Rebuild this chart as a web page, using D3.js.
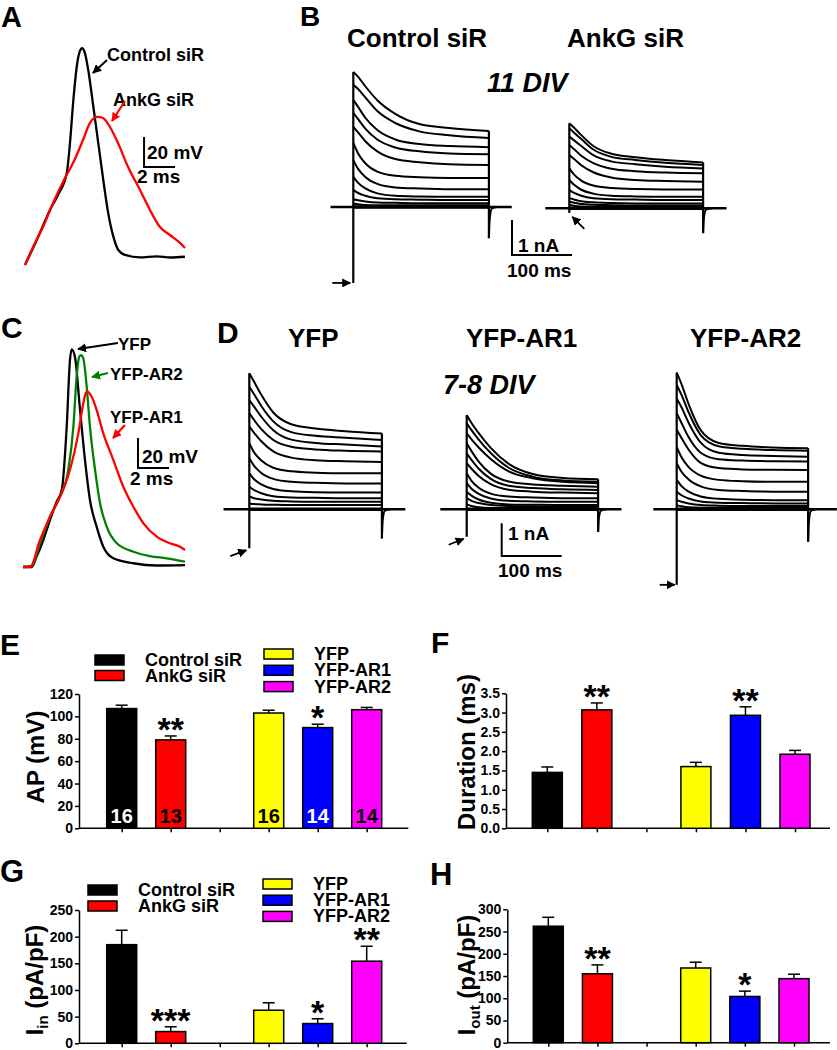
<!DOCTYPE html>
<html><head><meta charset="utf-8">
<script src="https://cdn.jsdelivr.net/npm/d3@7"></script>
<style>
body{margin:0;background:#fff}
svg{display:block}
</style>
</head><body><script>
// ================= DATA =================
// Panel A action potentials: [time (ms), voltage (mV, relative to rest)]
const apAControl = [[0,0],[0.52,11.3],[1.10,24.7],[1.61,36.7],[2.13,46.7],[2.69,61.1],[2.90,81.1],[3.12,110],[3.37,134.5],[3.55,142.9],[3.68,144.5],[3.87,141.1],[4.08,130],[4.41,105.5],[4.73,81.1],[5.05,56.7],[5.37,34.5],[5.70,18.9],[6.02,10],[6.45,6.7],[7.42,5.1],[8.5,5.8],[9.4,5.0],[10.32,5.5]];
const apAAnkG = [[0,0],[0.52,12],[1.16,25.3],[1.81,41.3],[2.58,58],[3.10,68],[3.74,83.3],[4.19,94.7],[4.65,98.7],[5.03,98],[5.48,92],[6.0,81.3],[6.65,65.3],[7.42,50],[8.06,36.7],[8.71,25.3],[9.35,20],[10.0,14.7],[10.32,11.3]];
// Panel C action potentials
const apCYFP = [[0,0],[0.56,0],[0.88,6.9],[1.31,18],[1.74,31.3],[2.17,43.5],[2.5,51.3],[2.82,93.5],[3.03,138],[3.14,145.1],[3.35,140.2],[3.68,104.7],[4.0,71.3],[4.32,44.7],[4.75,26.9],[5.18,13.5],[5.83,5.8],[7.12,2.5],[8.6,1.0],[10.45,1.3]];
const apCAR2 = [[0,0],[0.56,0.7],[1.1,15.8],[1.74,33.5],[2.39,46.9],[2.92,64.7],[3.25,93.5],[3.46,126.9],[3.63,140.2],[3.74,141.3],[3.89,139.1],[4.11,120.2],[4.32,93.5],[4.65,64.7],[4.97,42.5],[5.4,26.9],[6.05,15.8],[7.12,10.2],[8.19,7.3],[9.27,5.8],[10.45,3.5]];
const apCAR1 = [[0,0],[0.45,0],[1.1,18],[1.74,33.5],[2.39,46.9],[3.03,64.7],[3.57,89.1],[3.89,109.1],[4.06,116.2],[4.15,116.9],[4.43,113.5],[4.75,104.7],[5.18,89.1],[5.83,71.3],[6.47,53.5],[7.12,40.2],[7.77,29.1],[8.63,20.2],[9.48,15.8],[10.13,13.5],[10.45,11.3]];

// Current families (nA) sampled at these times (ms) + step end
const sweepTimes = [0, 8, 20, 40, 70, 110, 160];
const stepEndMs   = [226, 223, 221, 219, 219];        // B ctrl, B AnkG, D YFP, D AR1, D AR2
const onsetPeakNA = [-2.17, -0.13, -1.19, -0.84, -2.31];
const offsetPeakNA= [-0.89, -0.71, -0.89, -0.69, -0.99];
const baselineMs  = [[-38,264],[-40,262],[-43,260],[-44,258],[-39,267]];

const ctrlSiRSweeps = [
[3.86,3.72,3.45,3.05,2.66,2.37,2.26,2.17],
[3.49,3.37,3.13,2.74,2.40,2.16,2.05,1.97],
[3.06,2.86,2.55,2.20,1.93,1.80,1.74,1.71],
[2.69,2.51,2.24,1.93,1.70,1.59,1.53,1.51],
[2.29,2.13,1.88,1.59,1.37,1.28,1.22,1.20],
[1.83,1.53,1.25,1.01,0.89,0.85,0.83,0.83],
[1.34,1.09,0.86,0.66,0.56,0.53,0.51,0.51],
[0.86,0.69,0.53,0.39,0.32,0.30,0.29,0.29],
[0.49,0.40,0.32,0.25,0.22,0.21,0.20,0.20],
[0.22,0.19,0.16,0.13,0.12,0.11,0.11,0.11],
[0.10,0.08,0.06,0.05,0.05,0.05,0.05,0.05]];
const ankGSiRSweeps = [
[2.43,2.30,2.09,1.78,1.56,1.46,1.38,1.31],
[2.29,2.16,1.98,1.68,1.47,1.38,1.30,1.24],
[2.05,1.94,1.78,1.52,1.34,1.26,1.19,1.14],
[1.81,1.69,1.50,1.29,1.13,1.06,1.02,1.00],
[1.52,1.41,1.23,1.03,0.88,0.81,0.78,0.76],
[1.14,0.96,0.79,0.65,0.58,0.55,0.54,0.54],
[0.81,0.67,0.53,0.42,0.36,0.34,0.33,0.33],
[0.52,0.44,0.36,0.29,0.26,0.25,0.24,0.24],
[0.29,0.25,0.20,0.17,0.15,0.14,0.14,0.14],
[0.19,0.16,0.12,0.10,0.09,0.08,0.08,0.08],
[0.10,0.07,0.05,0.04,0.04,0.04,0.04,0.04]];
const yfpSweeps = [
[4.16,3.90,3.50,2.96,2.60,2.47,2.39,2.32],
[3.75,3.52,3.16,2.69,2.36,2.25,2.19,2.12],
[3.34,3.14,2.83,2.42,2.13,2.03,1.98,1.92],
[2.94,2.73,2.45,2.12,1.91,1.83,1.79,1.77],
[2.53,2.34,2.08,1.77,1.58,1.50,1.47,1.45],
[2.02,1.74,1.49,1.27,1.16,1.12,1.10,1.10],
[1.56,1.33,1.11,0.93,0.84,0.81,0.79,0.79],
[1.10,0.92,0.76,0.62,0.55,0.52,0.51,0.51],
[0.69,0.59,0.49,0.40,0.36,0.35,0.34,0.34],
[0.39,0.34,0.30,0.26,0.24,0.23,0.23,0.23],
[0.18,0.16,0.15,0.14,0.13,0.13,0.13,0.13]];
const yfpAR1Sweeps = [
[2.88,2.64,2.33,1.88,1.39,1.08,0.96,0.92],
[2.63,2.42,2.13,1.72,1.27,1.00,0.88,0.84],
[2.32,2.14,1.89,1.54,1.16,0.95,0.84,0.80],
[2.02,1.78,1.46,1.09,0.85,0.76,0.72,0.69],
[1.71,1.51,1.24,0.93,0.72,0.65,0.61,0.59],
[1.41,1.24,1.02,0.77,0.60,0.54,0.51,0.49],
[1.10,0.87,0.66,0.48,0.39,0.36,0.34,0.34],
[0.80,0.63,0.47,0.33,0.26,0.24,0.23,0.23],
[0.54,0.42,0.30,0.20,0.15,0.14,0.13,0.13],
[0.34,0.26,0.19,0.13,0.10,0.09,0.08,0.08],
[0.15,0.10,0.06,0.04,0.04,0.04,0.04,0.04]];
const yfpAR2Sweeps = [
[4.18,3.83,3.21,2.42,2.03,1.94,1.89,1.87],
[3.80,3.50,2.96,2.27,1.93,1.85,1.81,1.79],
[3.39,3.12,2.64,2.04,1.73,1.66,1.63,1.61],
[2.94,2.64,2.20,1.73,1.53,1.49,1.47,1.46],
[2.43,2.18,1.82,1.42,1.26,1.22,1.21,1.20],
[1.91,1.59,1.29,1.03,0.90,0.86,0.84,0.84],
[1.41,1.15,0.91,0.70,0.59,0.56,0.54,0.54],
[0.90,0.71,0.54,0.39,0.32,0.29,0.28,0.28],
[0.54,0.43,0.33,0.24,0.20,0.19,0.18,0.18],
[0.28,0.23,0.18,0.13,0.11,0.10,0.10,0.10],
[0.12,0.09,0.06,0.05,0.05,0.05,0.05,0.05]];

// Bar charts
const categories = ["Control siR","AnkG siR","gap","YFP","YFP-AR1","YFP-AR2"];
const barGroups  = ["Control siR","AnkG siR","YFP","YFP-AR1","YFP-AR2"];
const apValues  = [107, 79, 103, 90, 106];
const apErrors  = [3, 3.5, 2.5, 3, 2];
const apN       = ["16","13","16","14","14"];
const apSig     = ["","**","","*",""];
const durValues = [1.45, 3.07, 1.60, 2.93, 1.92];
const durErrors = [0.14, 0.18, 0.11, 0.22, 0.10];
const durSig    = ["","**","","**",""];
const iinValues = [185, 22, 62, 37, 154];
const iinErrors = [27, 9, 14, 9, 28];
const iinSig    = ["","***","","*","**"];
const ioutValues= [262, 155, 168, 104, 144];
const ioutErrors= [20, 20, 13, 12, 10];
const ioutSig   = ["","**","","*",""];
const apTicks   = [0,20,40,60,80,100,120];
const durTicks  = [0,0.5,1.0,1.5,2.0,2.5,3.0,3.5];
const iinTicks  = [0,50,100,150,200,250];
const ioutTicks = [0,50,100,150,200,250,300];

// ================= STYLE =================
const FONT = 'Arial, "Liberation Sans", Helvetica, sans-serif';
const barFill = ["#000000","#ff0000","#ffff00","#0000ff","#ff00ff"];
const nLabelFill = ["#ffffff","#000000","#000000","#ffffff","#000000"];

const svg = d3.select("body").append("svg")
  .attr("width",837).attr("height",1050)
  .style("font-family",FONT).style("font-weight","bold");

const defs = svg.append("defs");
[["k","#000"],["r","#ff0000"],["g","#008000"]].forEach(([id,c])=>{
  defs.append("marker").attr("id","ah-"+id).attr("viewBox","0 0 10 10")
    .attr("refX",9).attr("refY",5).attr("markerWidth",9).attr("markerHeight",9)
    .attr("markerUnits","userSpaceOnUse").attr("orient","auto")
    .append("path").attr("d","M0,0L10,5L0,10Z").attr("fill",c);
});

function text(x,y,s,size,o={}){
  const t = svg.append("text").attr("x",x).attr("y",y).text(s)
    .attr("font-size",size).attr("fill",o.fill||"#000");
  if(o.anchor) t.attr("text-anchor",o.anchor);
  if(o.italic) t.attr("font-style","italic");
  return t;
}
function arrow(x1,y1,x2,y2,color,mid,w){
  svg.append("line").attr("x1",x1).attr("y1",y1).attr("x2",x2).attr("y2",y2)
    .attr("stroke",color).attr("stroke-width",w||2).attr("marker-end",`url(#ah-${mid})`);
}

// Panel letters
[["A",1,27,29],["B",300,26,28],["C",1,338,30],["D",217,343,30],["E",0,655,30],["F",431,653,30],["G",0,882,31],["H",430,885,31]]
  .forEach(([s,x,y,f])=>text(x,y,s,f));

// ================= AP traces (A, C) =================
function apPanel(x0,y0,traces){
  const x = d3.scaleLinear().domain([0,10]).range([x0, x0+155]);
  const y = d3.scaleLinear().domain([0,20]).range([y0, y0-30]);
  const line = d3.line().x(d=>x(d[0])).y(d=>y(d[1])).curve(d3.curveMonotoneX);
  traces.forEach(([data,color])=>{
    svg.append("path").attr("d",line(data)).attr("fill","none")
      .attr("stroke",color).attr("stroke-width",2.3).attr("stroke-linejoin","round");
  });
  return {x,y};
}
const sA = apPanel(25,265,[[apAControl,"#000"],[apAAnkG,"#ff0000"]]);
const sC = apPanel(23,567,[[apCYFP,"#000"],[apCAR2,"#008000"],[apCAR1,"#ff0000"]]);

function mvScaleBar(s,t0,v0,lbl1,lbl2,l1x,l1y,l2x,l2y){
  svg.append("path").attr("d",d3.line()([[s.x(t0),s.y(v0+20)],[s.x(t0),s.y(v0)],[s.x(t0+2),s.y(v0)]]))
    .attr("fill","none").attr("stroke","#000").attr("stroke-width",2);
  text(l1x,l1y,lbl1,19); text(l2x,l2y,lbl2,19);
}
mvScaleBar(sA,7.68,65.3,"20 mV","2 ms",147,159,137,183);
mvScaleBar(sC,7.42,66,"20 mV","2 ms",142,463,130,485);

text(107,61,"Control siR",18);
text(113,106,"AnkG siR",18);
arrow(107,60,93,73,"#000","k",2);
arrow(125,101,112,121,"#ff0000","r",2.2);

text(118,350,"YFP",17);
text(110,380,"YFP-AR2",17);
text(110,423,"YFP-AR1",17);
arrow(118,343,78,349,"#000","k",2);
arrow(108,373,92,377,"#008000","g",2.2);
arrow(125,425,113,438,"#ff0000","r",2.2);

// ================= Current families (B, D) =================
function family(idx,sweeps,x0,y0,pxNA,arrowSpec){
  const end = stepEndMs[idx];
  const x = d3.scaleLinear().domain([0,100]).range([x0,x0+60]);
  const y = d3.scaleLinear().domain([0,1]).range([y0,y0-pxNA]);
  const g = svg.append("g").attr("fill","none").attr("stroke","#000").attr("stroke-linejoin","round");
  const times = sweepTimes.concat([end]);
  const line = d3.line().x(d=>x(d[0])).y(d=>y(d[1])).curve(d3.curveMonotoneX);
  const lin = d3.line().x(d=>x(d[0])).y(d=>y(d[1]));
  sweeps.forEach(s=>{
    g.append("path").attr("d",line(s.map((v,i)=>[times[i],v]))).attr("stroke-width",2);
  });
  // baseline
  const [bl,br] = baselineMs[idx];
  g.append("path").attr("d",lin([[bl,0],[br,0]])).attr("stroke-width",2.6);
  g.append("path").attr("d",lin([[0,0],[end,0]])).attr("stroke-width",3.4);
  // onset transient
  g.append("path").attr("d",lin([[0,onsetPeakNA[idx]],[0,sweeps[0][0]]])).attr("stroke-width",2.2);
  // offset transient
  const off = offsetPeakNA[idx];
  g.append("path").attr("d",lin([[end,sweeps[0][7]],[end,off]])).attr("stroke-width",2.2);
  g.append("path").attr("d",line([[end,off],[end+1.5,off*0.35],[end+5,-0.04],[end+14,0]])).attr("stroke-width",2);
  // arrow
  const bx = x(0), by = y(onsetPeakNA[idx]);
  arrow(bx+arrowSpec[0],by+arrowSpec[1],bx+arrowSpec[2],by+arrowSpec[3],"#000","k",1.8);
}
family(0,ctrlSiRSweeps,353.3,207,35,[-21,0,-3,0]);
family(1,ankGSiRSweeps,569.3,208.3,35,[15,16,3,4]);
family(2,yfpSweeps,249.3,509.3,32.7,[-19,8,-3,2]);
family(3,yfpAR1Sweeps,466.7,509.3,32.7,[-18,8,-3,2]);
family(4,yfpAR2Sweeps,676.7,509.3,32.7,[-17,0,-2,0]);

function naScaleBar(x0,y0,pxNA,l1x,l1y,l2x,l2y){
  svg.append("path").attr("d",d3.line()([[x0,y0-pxNA],[x0,y0],[x0+60,y0]]))
    .attr("fill","none").attr("stroke","#000").attr("stroke-width",2);
  text(l1x,l1y,"1 nA",19); text(l2x,l2y,"100 ms",19);
}
naScaleBar(512,255,35,518,252,507,277);
naScaleBar(501.7,556,32.7,508,540,498,577);

text(347,47,"Control siR",26);
text(567,47,"AnkG siR",26);
text(487,92,"11 DIV",27,{italic:true});
text(288,347,"YFP",26);
text(466,347,"YFP-AR1",26);
text(690,347,"YFP-AR2",26);
text(443,394,"7-8 DIV",27,{italic:true});

// ================= Bar charts =================
function barChart(c){
  const x = d3.scalePoint().domain(categories).range(c.tickRange);
  const y = d3.scaleLinear().domain([0,c.max]).range([c.bottom,c.top]);
  const g = svg.append("g");
  const ya = g.append("g").attr("transform",`translate(${c.axisX},0)`)
    .call(d3.axisLeft(y).tickValues(c.ticks).tickSize(4).tickPadding(2).tickSizeOuter(0).tickFormat(c.fmt));
  const xa = g.append("g").attr("transform",`translate(0,${c.bottom})`)
    .call(d3.axisBottom(x).tickSize(4).tickSizeOuter(0).tickFormat(""));
  xa.select(".domain").remove();
  [ya,xa].forEach(a=>{
    a.attr("font-family",FONT).attr("font-size",14).attr("font-weight","bold");
    a.selectAll("line").attr("stroke-width",1.5);
    a.selectAll("path").attr("stroke-width",1.5);
    a.selectAll("text").attr("fill","#000");
  });
  g.append("line").attr("x1",c.axisX).attr("x2",c.axisEnd).attr("y1",c.bottom).attr("y2",c.bottom)
    .attr("stroke","#000").attr("stroke-width",1.5);
  barGroups.forEach((k,i)=>{
    const cx = x(k), v = c.values[i], e = c.errors[i];
    g.append("line").attr("x1",cx).attr("x2",cx).attr("y1",y(v)).attr("y2",y(v+e)).attr("stroke","#000").attr("stroke-width",1.5);
    g.append("line").attr("x1",cx-6).attr("x2",cx+6).attr("y1",y(v+e)).attr("y2",y(v+e)).attr("stroke","#000").attr("stroke-width",1.5);
    g.append("rect").attr("x",cx-15).attr("y",y(v)).attr("width",30).attr("height",y(0)-y(v))
      .attr("fill",barFill[i]).attr("stroke","#000").attr("stroke-width",1.5);
    if(c.sig[i]) g.append("text").attr("x",cx).attr("y",y(v+e)+5).attr("text-anchor","middle")
      .attr("font-size",34).text(c.sig[i]);
    if(c.n) g.append("text").attr("x",cx).attr("y",c.bottom-5.5).attr("text-anchor","middle")
      .attr("font-size",20).attr("fill",nLabelFill[i]).text(c.n[i]);
  });
  // y label
  const lab = svg.append("text").attr("transform",`translate(${c.labX},${c.labY}) rotate(-90)`)
    .attr("text-anchor","middle").attr("font-size",24);
  c.label.forEach(([s,sub])=>{
    const ts = lab.append("tspan").text(s);
    if(sub){ ts.attr("font-size",15).attr("dy",5); }
    else if(lab.selectAll("tspan").size()>1){ ts.attr("dy",-5); }
  });
}
barChart({tickRange:[121.7,366.7],axisX:79,axisEnd:408.3,bottom:828.3,top:694,max:120,
  ticks:apTicks,fmt:d3.format("d"),values:apValues,errors:apErrors,sig:apSig,n:apN,
  labX:44,labY:757,label:[["AP (mV)"]]});
barChart({tickRange:[547.3,795],axisX:506,axisEnd:830,bottom:828.3,top:693.3,max:3.5,
  ticks:durTicks,fmt:d3.format(".1f"),values:durValues,errors:durErrors,sig:durSig,
  labX:475,labY:752,label:[["Duration (ms)"]]});
barChart({tickRange:[121.7,366.7],axisX:79,axisEnd:406.7,bottom:1043.3,top:910,max:250,
  ticks:iinTicks,fmt:d3.format("d"),values:iinValues,errors:iinErrors,sig:iinSig,
  labX:43,labY:980,label:[["I"],["in",true],[" (pA/pF)"]]});
barChart({tickRange:[548.3,794],axisX:507.3,axisEnd:830,bottom:1042.7,top:909.3,max:300,
  ticks:ioutTicks,fmt:d3.format("d"),values:ioutValues,errors:ioutErrors,sig:ioutSig,
  labX:475,labY:975,label:[["I"],["out",true],[" (pA/pF)"]]});

// Legends
function legend(x,y0,step,items,fs){
  items.forEach(([lbl,col],i)=>{
    const yy = y0 + i*step;
    svg.append("rect").attr("x",x).attr("y",yy-10).attr("width",29).attr("height",10)
      .attr("fill",col).attr("stroke","#000").attr("stroke-width",1.5);
    text(x+50,yy+1,lbl,fs);
  });
}
legend(95,665,15.5,[["Control siR","#000"],["AnkG siR","#ff0000"]],18);
legend(264,659,16.3,[["YFP","#ffff00"],["YFP-AR1","#0000ff"],["YFP-AR2","#ff00ff"]],18);
legend(88,895,16,[["Control siR","#000"],["AnkG siR","#ff0000"]],18);
legend(263,889,16.2,[["YFP","#ffff00"],["YFP-AR1","#0000ff"],["YFP-AR2","#ff00ff"]],18);
</script></body></html>
